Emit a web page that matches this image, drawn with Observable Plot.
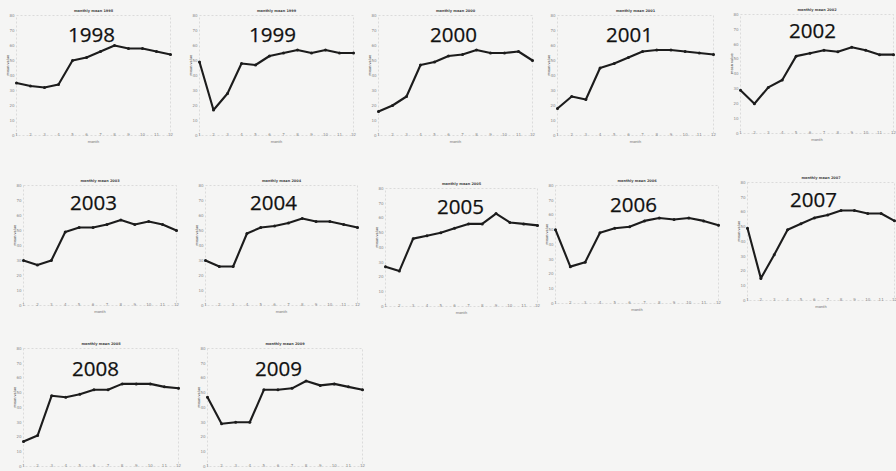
<!DOCTYPE html>
<html><head><meta charset="utf-8">
<script src="https://cdn.jsdelivr.net/npm/d3@7"></script>
<script src="https://cdn.jsdelivr.net/npm/@observablehq/plot@0.6"></script>
<style>
html,body{margin:0;padding:0;background:#f5f5f4;}
#wrap{position:relative;width:896px;height:471px;overflow:hidden;background:#f5f5f4;}
#wrap svg{position:absolute;}
</style></head><body><div id="wrap"></div>
<script>
const months = [1,2,3,4,5,6,7,8,9,10,11,12];
const monthLabels = ["1","2","3","4","5","6","7","8","9","10","11","12"];
const yTicks = [0,10,20,30,40,50,60,70,80];
const years = ["1998","1999","2000","2001","2002","2003","2004","2005","2006","2007","2008","2009"];

const v1998 = [35, 33, 32, 34, 50, 52, 56, 60, 58, 58, 56, 54];
const v1999 = [49, 17, 28, 48, 47, 53, 55, 57, 55, 57, 55, 55];
const v2000 = [16, 20, 26, 47, 49, 53, 54, 57, 55, 55, 56, 50];
const v2001 = [18, 26, 24, 45, 48, 52, 56, 57, 57, 56, 55, 54];
const v2002 = [29, 20, 31, 36, 52, 54, 56, 55, 58, 56, 53, 53];
const v2003 = [30, 27, 30, 49, 52, 52, 54, 57, 54, 56, 54, 50];
const v2004 = [30, 26, 26, 48, 52, 53, 55, 58, 56, 56, 54, 52];
const v2005 = [27, 24, 46, 48, 50, 53, 56, 56, 63, 57, 56, 55];
const v2006 = [50, 25, 28, 48, 51, 52, 56, 58, 57, 58, 56, 53];
const v2007 = [49, 15, 31, 48, 52, 56, 58, 61, 61, 59, 59, 54];
const v2008 = [17, 21, 48, 47, 49, 52, 52, 56, 56, 56, 54, 53];
const v2009 = [47, 29, 30, 30, 52, 52, 53, 58, 55, 56, 54, 52];

const series = {"1998":v1998,"1999":v1999,"2000":v2000,"2001":v2001,"2002":v2002,"2003":v2003,
  "2004":v2004,"2005":v2005,"2006":v2006,"2007":v2007,"2008":v2008,"2009":v2009};

// panel layout: [x of month 1, x of month 12, top y, bottom y, label center x, label baseline y]
const layout = {
  "1998":[16,170,15,135,91,41],
  "1999":[199,353,15,135,272,41],
  "2000":[378,532,15,135,453,41],
  "2001":[557,713,15,135,629,41],
  "2002":[740,893,14,133,812,37],
  "2003":[23,176,185,305,93,209],
  "2004":[205,357,185,305,273,209],
  "2005":[385,537,188,306,460,213],
  "2006":[555,718,185,303,633,211],
  "2007":[747,894,182,300,813,206],
  "2008":[23,178,348,466,95,375],
  "2009":[207,362,348,466,278,375]
};
const bottomRow = ["2008","2009"];

const ML = 14, MR = 6, MT = 14, MB = 12;
const wrap = document.getElementById("wrap");
for (const yr of years) {
  const [x0, x1, yt, yb, lx, ly] = layout[yr];
  const data = months.map((m, i) => ({month: m, value: series[yr][i]}));
  const marks = [
    Plot.frame({stroke: "#d4d4d4", strokeDasharray: "2,2", strokeWidth: 0.8}),
    Plot.axisX(months, {tickSize: 0, tickPadding: 0, dy: -2, tickFormat: (d, i) => monthLabels[i], fill: "#8a8a8a", label: null}),
    Plot.axisY(yTicks, {tickSize: 0, tickPadding: 2, fill: "#8a8a8a", label: null}),
    Plot.line(data, {x: "month", y: "value", stroke: "#1c1c1c", strokeWidth: 2.1, strokeLinejoin: "round"}),
    Plot.dot(data, {x: "month", y: "value", r: 1.5, fill: "#1c1c1c", stroke: null}),
    Plot.text([yr], {frameAnchor: "top-left", dx: lx - x0, dy: ly - yt, fontSize: 20.5, fontFamily: "Open Sans", fill: "#111", stroke: "#111", strokeWidth: 0.25, textAnchor: "middle", lineAnchor: "bottom"}),
    Plot.text(["monthly mean " + yr], {frameAnchor: "top", dy: -4, fontSize: 3.5, fontWeight: "bold", fill: "#444", lineAnchor: "bottom"}),
    Plot.text(["mean value"], {frameAnchor: "left", dx: -9, rotate: -90, fontSize: 3.5, fill: "#444"})
  ];
  if (!bottomRow.includes(yr)) {
    marks.push(Plot.text(["month"], {frameAnchor: "bottom", dy: 7, fontSize: 3.5, fill: "#666"}));
  }
  const chart = Plot.plot({
    width: x1 - x0 + ML + MR,
    height: yb - yt + MT + MB,
    marginLeft: ML, marginRight: MR, marginTop: MT, marginBottom: MB,
    style: {background: "transparent", fontSize: "4px", fontFamily: "DejaVu Sans", color: "#8a8a8a", overflow: "visible"},
    x: {domain: [1, 12], label: null},
    y: {domain: [0, 80], label: null},
    marks
  });
  chart.style.left = (x0 - ML) + "px";
  chart.style.top = (yt - MT) + "px";
  wrap.append(chart);
}
</script>
</body></html>
